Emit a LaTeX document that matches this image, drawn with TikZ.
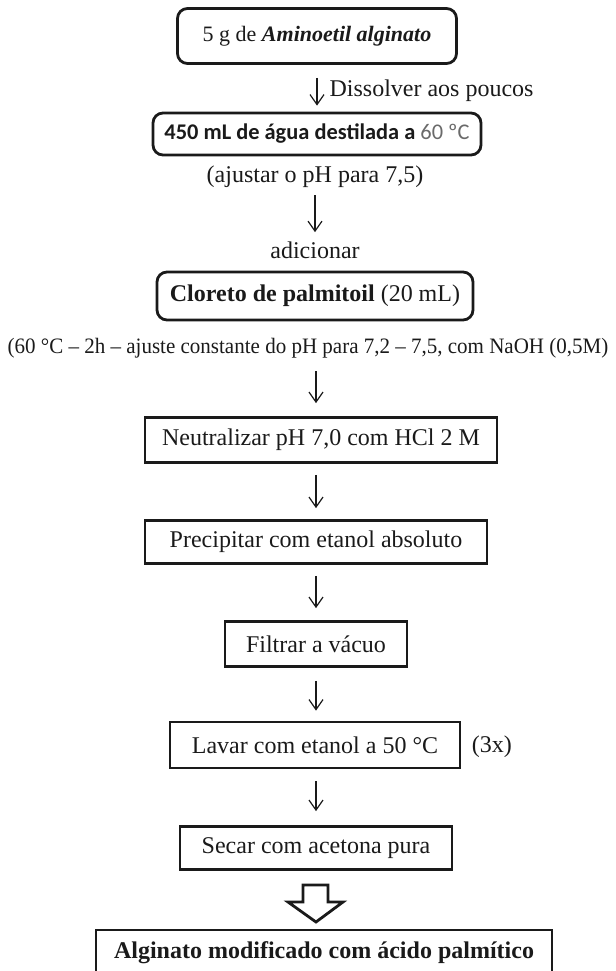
\documentclass[tikz,border=0pt]{standalone}
\usepackage{fontspec}
\setmainfont{Liberation Serif}
\newfontfamily\calibrifont{Carlito}
\usepackage{graphicx}
\usepackage{tikz}
\usetikzlibrary{positioning, arrows.meta, calc}
\definecolor{pfInk}{HTML}{1A1A1A}
\definecolor{pfSoft}{HTML}{6A6A6A}
\tikzset{
    pfBoxBase/.style={
        rectangle,
        draw=pfInk,
        line width=1.4pt,
        minimum height=22pt,
        font=\fontsize{12}{14}\selectfont,
        text=pfInk,
        align=center,
        inner sep=3pt
    },
    % Step Variants
    softStep/.style={pfBoxBase, rounded corners=5pt},
    plainStep/.style={pfBoxBase},
    % Notes and Arrows
    pfNote/.style={
        font=\fontsize{12}{14}\selectfont,
        text=pfInk,
        inner sep=2pt
    },
    pfArrowBase/.style={-{Straight Barb[length=5pt,width=7pt]}, line width=0.6pt, draw=pfInk, shorten <=5.5pt, shorten >=5.5pt},
    pfBlock/.style={draw=pfInk, line width=1.4pt, fill=white, line join=miter}
}

\begin{document}
\begin{tikzpicture}[x=0.5pt, y=-0.5pt]
\useasboundingbox (0,0) rectangle (616,971);

\node[softStep, minimum width=139.5pt, minimum height=27.5pt, font=\fontsize{11}{13}\selectfont] (amino) at (317,36) {5 g de \textbf{\textit{Aminoetil alginato}}};
\node[softStep, minimum width=164pt, minimum height=21pt, font=\fontsize{11.2}{13}\selectfont] (agua) at (317,134) {\calibrifont\textbf{450 mL de água destilada a} {\color{pfSoft}60 ºC}};
\draw[pfArrowBase, shorten <=6.5pt, shorten >=3pt] (amino) -- node[right, pfNote, pos=0.55, xshift=4pt] {Dissolver aos poucos} (agua);

\node[pfNote] (ajuste) at (315,177) {(ajustar o pH para 7,5)};
\node[pfNote] (adic) at (315,250) {adicionar};
\draw[pfArrowBase, shorten <=1.5pt, shorten >=2.5pt] (ajuste) -- (adic);

\node[softStep, minimum width=158pt, minimum height=24pt] (cloreto) at (315,296) {\textbf{Cloreto de palmitoil} (20 mL)};
\node[pfNote, font=\fontsize{11}{13}\selectfont] (cond) at (308,348) {\scalebox{0.955}[1]{(60 °C – 2h – ajuste constante do pH para 7,2 – 7,5, com NaOH (0,5M)}};

\node[plainStep, minimum width=176pt, minimum height=22.5pt] (neutral) at (321,440) {Neutralizar pH 7,0 com HCl 2 M};
\node[plainStep, minimum width=171pt, minimum height=21.5pt] (precip) at (316,542) {Precipitar com etanol absoluto};
\node[plainStep, minimum width=91pt, minimum height=22.5pt] (filtrar) at (316,644) {Filtrar a vácuo};
\node[plainStep, minimum width=145pt, minimum height=23pt] (lavar) at (315,745) {Lavar com etanol a 50 °C};
\node[pfNote, right=3pt of lavar, yshift=-1pt] (vezes) {(3x)};
\node[plainStep, minimum width=136pt, minimum height=21.5pt] (secar) at (316,848) {Secar com acetona pura};
\node[plainStep, minimum width=228pt, minimum height=22.5pt, font=\fontsize{12}{14}\selectfont\bfseries] (result) at (324,952.5) {Alginato modificado com ácido palmítico};

\draw[pfArrowBase, shorten <=4.5pt, shorten >=6.5pt] (cond.south -| precip) -- (neutral.north -| precip);
\draw[pfArrowBase] (neutral.south -| precip) -- (precip);
\draw[pfArrowBase, shorten >=6pt] (precip) -- (filtrar);
\draw[pfArrowBase, shorten <=6.5pt, shorten >=5pt] (filtrar) -- (lavar.north -| filtrar);
\draw[pfArrowBase, shorten <=6pt, shorten >=7pt] (lavar.south -| secar) -- (secar);

% block arrow to the product
\draw[pfBlock] (303,885) -- (328,885) -- (328,902) -- (343,902) -- (316,922) -- (288,902) -- (303,902) -- cycle;
\end{tikzpicture}
\end{document}
